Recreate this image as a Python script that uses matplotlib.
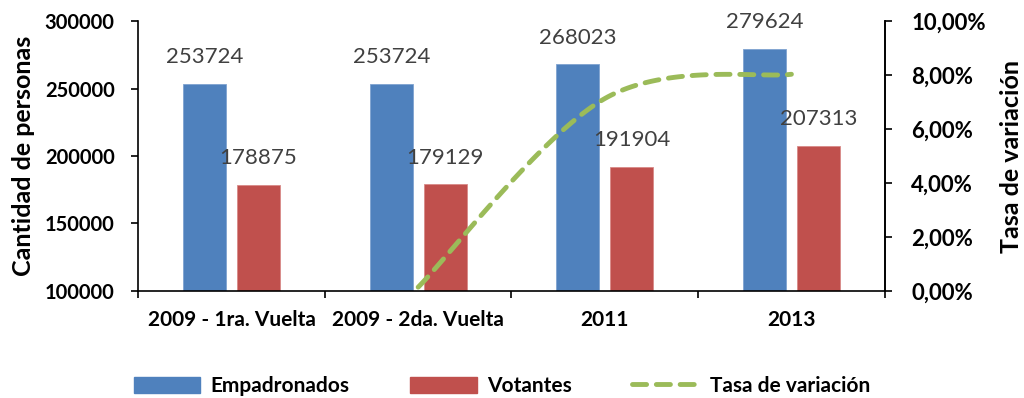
import numpy as np
import matplotlib
matplotlib.use("Agg")
import matplotlib.pyplot as plt
from matplotlib.ticker import FuncFormatter, FixedLocator
from matplotlib.lines import Line2D
from matplotlib.patches import Patch

categories = ["2009 - 1ra. Vuelta", "2009 - 2da. Vuelta", "2011", "2013"]
empadronados = [253724, 253724, 268023, 279624]
votantes = [178875, 179129, 191904, 207313]
tasa = [np.nan, 0.14, 7.13, 8.03]  # %

BLUE = "#4F81BD"
RED = "#C0504D"
GREEN = "#9BBB59"
FONT = "Lato"

plt.rcParams["font.family"] = [FONT, "DejaVu Sans"]

fig = plt.figure(figsize=(10.24, 3.98), dpi=100)
ax = fig.add_axes([0.135, 0.269, 0.729, 0.678])
ax2 = ax.twinx()

x = np.arange(len(categories))
w = 0.23
off = 0.144
ax.bar(x - off, empadronados, w, color=BLUE, edgecolor="#7FA3D0", linewidth=0.6, zorder=2)
ax.bar(x + off, votantes, w, color=RED, edgecolor="#D88A88", linewidth=0.6, zorder=2)

for xi, v in zip(x - off, empadronados):
    ax.annotate(str(v), (xi, v), xytext=(0, 12), textcoords="offset points",
                ha="center", va="bottom", fontsize=16, color="#404040")
for xi, v in zip(x + off, votantes):
    ax.annotate(str(v), (xi, v), xytext=(0, 12), textcoords="offset points",
                ha="center", va="bottom", fontsize=16, color="#404040")

ax.set_xlim(-0.5, len(categories) - 0.5)
ax.set_ylim(100000, 300000)
ax.set_yticks(np.arange(100000, 300001, 50000))
ax.yaxis.set_major_formatter(FuncFormatter(lambda v, p: f"{int(v)}"))
ax.set_xticks(x)
ax.set_xticklabels(categories, fontweight="bold", fontsize=15)
ax.xaxis.set_minor_locator(FixedLocator(np.arange(-0.5, len(categories), 1.0)))
ax.tick_params(axis="x", which="major", length=0, pad=14)
ax.tick_params(axis="x", which="minor", length=5, width=1.2, direction="out")
ax.tick_params(axis="y", length=5, width=1.2, direction="out", labelsize=14.5, pad=12)
for lab in ax.get_yticklabels():
    lab.set_fontweight("bold")
ax.set_ylabel("Cantidad de personas", fontsize=18, fontweight="bold", labelpad=7)

# smoothed line (cubic Bezier through points, Catmull-Rom style control points)
xs = x[1:].astype(float)
ys = np.array(tasa[1:], dtype=float)
px, py = [], []
n = len(xs)
for i in range(n - 1):
    p0 = np.array([xs[max(i - 1, 0)], ys[max(i - 1, 0)]])
    p1 = np.array([xs[i], ys[i]])
    p2 = np.array([xs[i + 1], ys[i + 1]])
    p3 = np.array([xs[min(i + 2, n - 1)], ys[min(i + 2, n - 1)]])
    c1 = p1 + (p2 - p0) / 6
    c2 = p2 - (p3 - p1) / 6
    t = np.linspace(0, 1, 60)[:, None]
    pts = (1 - t) ** 3 * p1 + 3 * (1 - t) ** 2 * t * c1 + 3 * (1 - t) * t ** 2 * c2 + t ** 3 * p2
    px.extend(pts[:, 0]); py.extend(pts[:, 1])
DASH = (0, (2.9, 2.0))
ax2.plot(px, py, color=GREEN, lw=3.5, ls=DASH, dash_capstyle="round", zorder=3)

ax2.set_ylim(0, 10)
ax2.set_yticks(np.arange(0, 10.01, 2))
ax2.yaxis.set_major_formatter(FuncFormatter(lambda v, p: f"{v:.2f}".replace(".", ",") + "%"))
ax2.tick_params(axis="y", length=5, width=1.2, direction="out", labelsize=16, pad=14)
for lab in ax2.get_yticklabels():
    lab.set_fontweight("bold")
ax2.set_ylabel("Tasa de variación", fontsize=18, fontweight="bold", labelpad=10)

for a in (ax, ax2):
    a.spines["top"].set_visible(False)
    for s in ("left", "right", "bottom"):
        a.spines[s].set_linewidth(1.2)
ax2.spines["left"].set_visible(False)
ax2.spines["bottom"].set_visible(False)

handles = [Patch(color=BLUE, label="Empadronados"),
           Patch(color=RED, label="Votantes"),
           Line2D([0], [0], color=GREEN, lw=3.5, ls=DASH,
                  dash_capstyle="round", label="Tasa de variación")]
leg = fig.legend(handles=handles, loc="center", bbox_to_anchor=(0.49, 0.03), ncol=3,
                 frameon=False, prop={"weight": "bold", "size": 15},
                 handlelength=3.2, handleheight=0.8, columnspacing=2.9, handletextpad=0.5)

fig.savefig("out.png", dpi=100)
